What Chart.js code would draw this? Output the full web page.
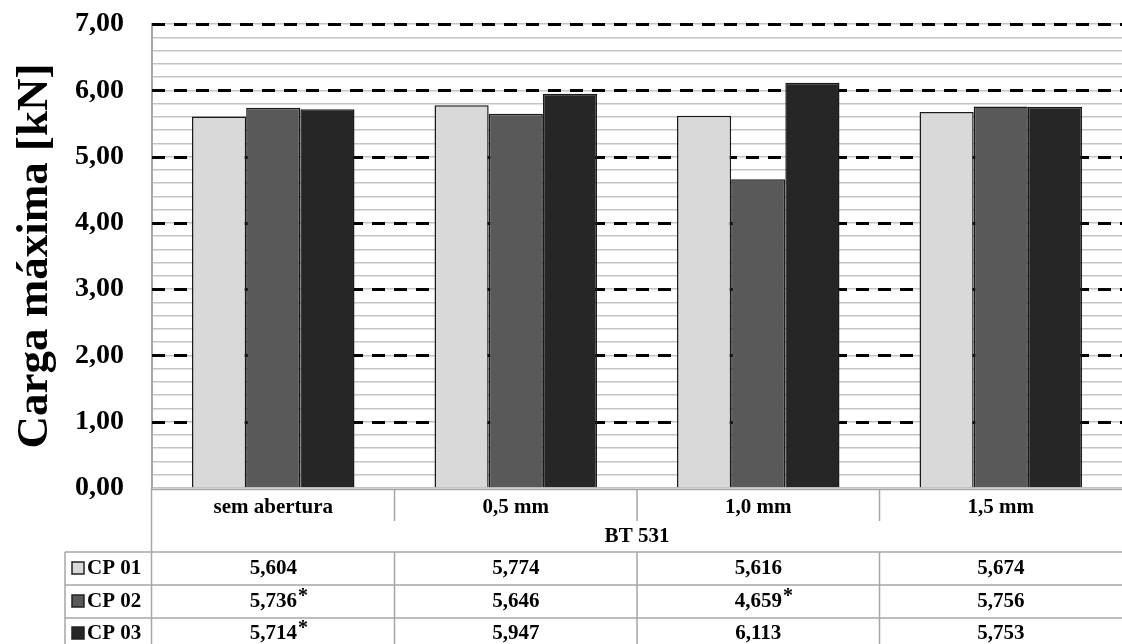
<!DOCTYPE html>
<html>
<head>
<meta charset="utf-8">
<script src="https://cdn.jsdelivr.net/npm/chart.js@4.4.0/dist/chart.umd.min.js"></script>
<style>
  html, body { margin: 0; padding: 0; background: #fff; }
  #wrap { width: 1122px; height: 644px; position: relative; }
</style>
</head>
<body>
<div id="wrap"><canvas id="grafico" width="1122" height="644"></canvas></div>
<script>
// datos del gráfico
const categorias = ["sem abertura", "0,5 mm", "1,0 mm", "1,5 mm"];
const grupo = "BT 531";
const series = ["CP 01", "CP 02", "CP 03"];
const cp01 = [5.604, 5.774, 5.616, 5.674];
const cp02 = [5.736, 5.646, 4.659, 5.756];
const cp03 = [5.714, 5.947, 6.113, 5.753];
// asteriscos en la tabla
const marca01 = [false, false, false, false];
const marca02 = [true, false, true, false];
const marca03 = [true, false, false, false];
const colores = ["#d9d9d9", "#595959", "#262626"];

const valores = [cp01, cp02, cp03];
const marcas = [marca01, marca02, marca03];
const fuente = "'Liberation Serif', 'Times New Roman', serif";

function formato(v, dec) {
  return v.toFixed(dec).replace(".", ",");
}

// lineas discontinuas en cada unidad
const lineasMayores = {
  id: "lineasMayores",
  beforeDatasetsDraw(chart) {
    const { ctx, chartArea, scales: { y } } = chart;
    ctx.save();
    ctx.strokeStyle = "#000";
    ctx.lineWidth = 3;
    ctx.setLineDash([13, 9]);
    for (let v = 1; v <= 7; v++) {
      const py = Math.round(y.getPixelForValue(v)) + 0.5;
      ctx.beginPath();
      ctx.moveTo(chartArea.left, py);
      ctx.lineTo(chartArea.right, py);
      ctx.stroke();
    }
    ctx.restore();
  }
};

// tabla de datos debajo del gráfico
const tablaDatos = {
  id: "tablaDatos",
  afterDraw(chart) {
    const { ctx, chartArea, scales: { x } } = chart;
    const abajo = chartArea.bottom;
    const filas = [552, 585, 618];
    const centros = [569, 602, 634];
    const bordes = [];
    for (let i = 1; i < categorias.length; i++) {
      bordes.push((x.getPixelForValue(i - 1) + x.getPixelForValue(i)) / 2);
    }
    ctx.save();
    ctx.strokeStyle = "#a6a6a6";
    ctx.lineWidth = 1.5;
    ctx.beginPath();
    ctx.moveTo(chartArea.left, abajo + 1.5);
    ctx.lineTo(chartArea.right, abajo + 1.5);
    ctx.moveTo(chartArea.left - 0.5, abajo);
    ctx.lineTo(chartArea.left - 0.5, 644);
    ctx.moveTo(65, filas[0]);
    ctx.lineTo(65, 644);
    for (const f of filas) {
      ctx.moveTo(65, f);
      ctx.lineTo(chartArea.right, f);
    }
    for (const b of bordes) {
      ctx.moveTo(b, abajo + 2);
      ctx.lineTo(b, 521);
      ctx.moveTo(b, filas[0]);
      ctx.lineTo(b, 644);
    }
    ctx.stroke();

    const letra = "bold 21px " + fuente;
    ctx.fillStyle = "#000";
    ctx.textBaseline = "middle";
    ctx.textAlign = "center";
    ctx.font = letra;
    categorias.forEach((c, i) => {
      ctx.fillText(c, x.getPixelForValue(i), 508);
    });
    ctx.fillText(grupo, (chartArea.left + chartArea.right) / 2, 537);

    series.forEach((s, j) => {
      const cy = centros[j];
      ctx.fillStyle = colores[j];
      ctx.fillRect(72, cy - 7, 12, 12);
      ctx.strokeStyle = "#222";
      ctx.lineWidth = 1.5;
      ctx.strokeRect(72, cy - 7, 12, 12);
      ctx.fillStyle = "#000";
      ctx.textAlign = "left";
      ctx.font = letra;
      ctx.fillText(s, 87, cy);
      ctx.textAlign = "center";
      valores[j].forEach((v, i) => {
        const cx = x.getPixelForValue(i);
        const txt = formato(v, 3);
        ctx.font = letra;
        ctx.fillText(txt, cx, cy);
        if (marcas[j][i]) {
          const w = ctx.measureText(txt).width;
          ctx.textAlign = "left";
          ctx.font = "bold 20px " + fuente;
          ctx.fillText("*", cx + w / 2 + 1, cy - 5);
          ctx.textAlign = "center";
        }
      });
    });
    ctx.restore();
  }
};

const ctx = document.getElementById("grafico").getContext("2d");
const chart = new Chart(ctx, {
  type: "bar",
  data: {
    labels: categorias,
    datasets: series.map((s, j) => ({
      label: s,
      data: valores[j],
      backgroundColor: colores[j],
      borderColor: "#1a1a1a",
      borderWidth: 1.5,
      categoryPercentage: 0.67,
      barPercentage: 1.0
    }))
  },
  options: {
    responsive: false,
    animation: false,
    layout: { padding: { top: 24, right: 0, bottom: 156, left: 0 } },
    plugins: {
      legend: { display: false },
      tooltip: { enabled: false }
    },
    scales: {
      x: { display: false },
      y: {
        min: 0,
        max: 7,
        afterFit(scale) {
          scale.width = 152;
          scale.paddingTop = 0;
          scale.paddingBottom = 0;
        },
        ticks: {
          stepSize: 0.2,
          autoSkip: false,
          padding: 28,
          color: "#000",
          font: { family: fuente, size: 28, weight: "bold" },
          callback(v) {
            return Math.abs(v - Math.round(v)) < 1e-6 ? formato(Math.round(v), 2) : "";
          }
        },
        grid: {
          color: "#c4c4c4",
          lineWidth: 1.5,
          drawTicks: false
        },
        border: { color: "#a6a6a6", width: 2 },
        title: {
          display: true,
          text: "Carga máxima [kN]",
          color: "#000",
          font: { family: fuente, size: 45, weight: "bold", lineHeight: 1 },
          padding: { top: 13, bottom: 0 }
        }
      }
    }
  },
  plugins: [lineasMayores, tablaDatos]
});
chart.render();
</script>
</body>
</html>
